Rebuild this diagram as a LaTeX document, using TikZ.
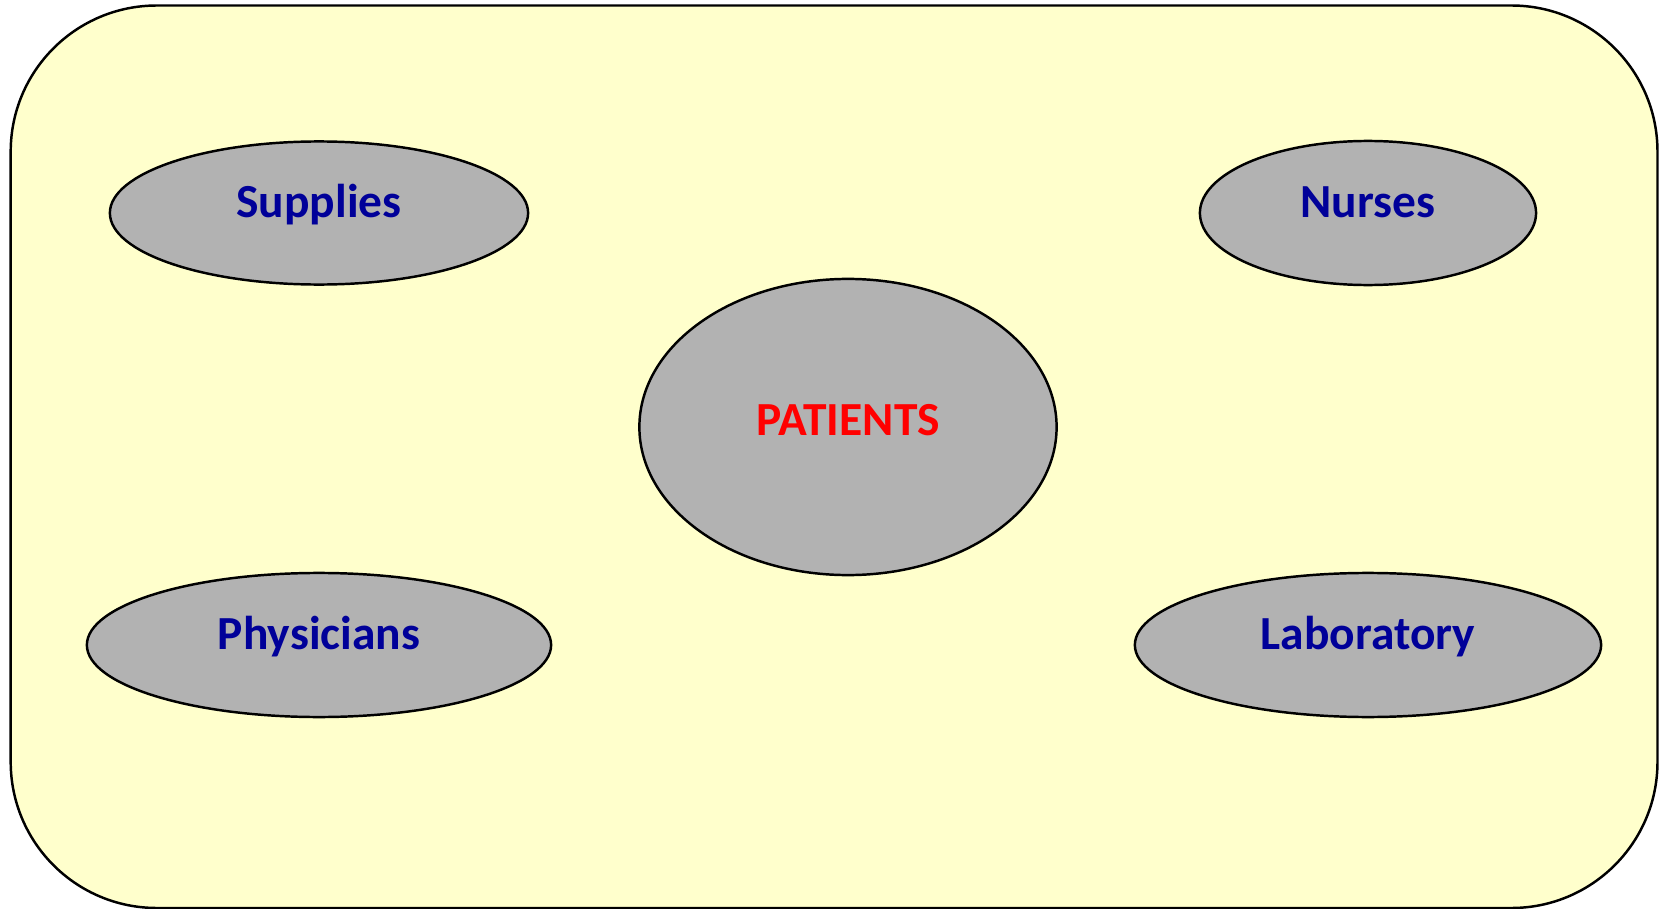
\documentclass[tikz,border=0pt]{standalone}
\usepackage{fontspec}
\setmainfont{Carlito}
\usepackage{xcolor}
\usetikzlibrary{shapes.geometric}

\definecolor{paper}{HTML}{FFFFCC}
\definecolor{place}{HTML}{B2B2B2}
\definecolor{staff}{HTML}{000099}

\begin{document}
\begin{tikzpicture}[x=0.01cm,y=-0.01cm,
    unit/.style={ellipse, draw, line width=0.7pt, fill=place, inner sep=0pt,
      font=\fontsize{13.5}{16}\selectfont\bfseries, text=staff,
      text height=9pt, text depth=6.2pt},
    core/.style={unit, text=red, text depth=4pt}]
  \useasboundingbox (0,0) rectangle (1665,909);
  \draw[line width=0.7pt, fill=paper, rounded corners=1.46cm]
    (10.7,5.5) rectangle (1657.5,908);
  % the four services round the patients
  \node[unit, minimum width=4.18cm, minimum height=1.43cm] (supplies) at (319,213) {Supplies};
  \node[unit, minimum width=3.36cm, minimum height=1.44cm] (nurses) at (1368,213) {Nurses};
  \node[unit, minimum width=4.64cm, minimum height=1.44cm] (physicians) at (319,645) {Physicians};
  \node[unit, minimum width=4.66cm, minimum height=1.44cm] (lab) at (1368,645) {Laboratory};
  \node[core, minimum width=4.17cm, minimum height=2.96cm] (patients) at (848,427) {PATIENTS};
\end{tikzpicture}
\end{document}
